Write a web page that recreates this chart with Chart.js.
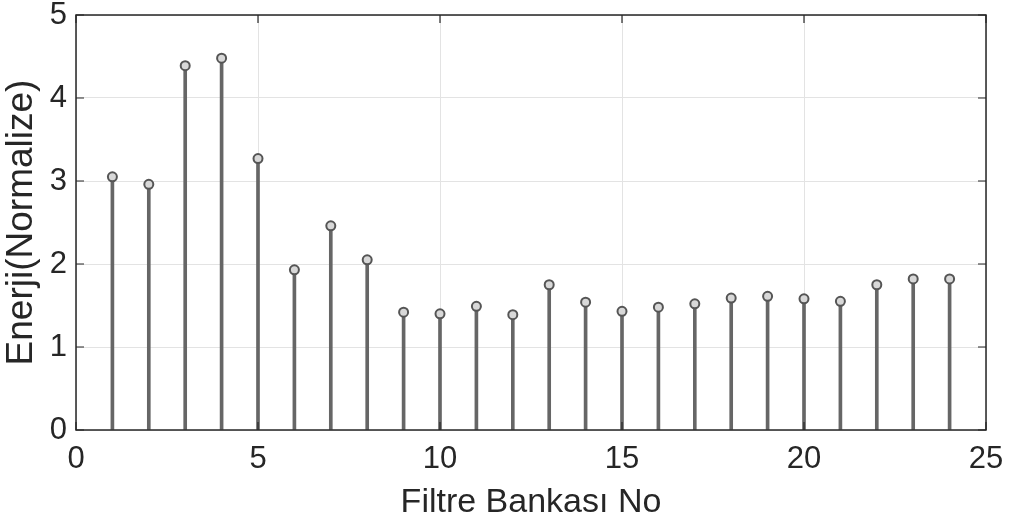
<!DOCTYPE html>
<html>
<head>
<meta charset="utf-8">
<script src="https://cdn.jsdelivr.net/npm/chart.js@4"></script>
<style>
  html, body { margin: 0; padding: 0; background: #fff; }
  #wrap { width: 1010px; height: 525px; }
</style>
</head>
<body>
<div id="wrap"><canvas id="myChart" width="1010" height="525"></canvas></div>
<script>
// filtre banka numaralari ve enerji degerleri
var bankNo = [1, 2, 3, 4, 5, 6, 7, 8, 9, 10, 11, 12, 13, 14, 15, 16, 17, 18, 19, 20, 21, 22, 23, 24];
var energy = [3.05, 2.96, 4.39, 4.48, 3.27, 1.93, 2.46, 2.05, 1.42, 1.40, 1.49, 1.39,
              1.75, 1.54, 1.43, 1.48, 1.52, 1.59, 1.61, 1.58, 1.55, 1.75, 1.82, 1.82];
var xTicks = [0, 5, 10, 15, 20, 25];
var yTicks = [0, 1, 2, 3, 4, 5];

var points = bankNo.map(function (n, i) {
    return { x: n, y: energy[i] };
});

// kutu ve iceri dogru tick cizgileri (matlab gibi)
var boxPlugin = {
    id: 'box',
    afterDatasetsDraw: function (chart) {
        const ctx = chart.ctx;
        const a = chart.chartArea;
        const xs = chart.scales.x, ys = chart.scales.y;
        ctx.save();
        ctx.strokeStyle = '#262626';
        ctx.lineWidth = 1.2;
        xTicks.forEach(function (t) {
            const px = xs.getPixelForValue(t);
            ctx.beginPath();
            ctx.moveTo(px, a.bottom); ctx.lineTo(px, a.bottom - 8);
            ctx.moveTo(px, a.top); ctx.lineTo(px, a.top + 8);
            ctx.stroke();
        });
        yTicks.forEach(function (t) {
            const py = ys.getPixelForValue(t);
            ctx.beginPath();
            ctx.moveTo(a.left, py); ctx.lineTo(a.left + 8, py);
            ctx.moveTo(a.right, py); ctx.lineTo(a.right - 8, py);
            ctx.stroke();
        });
        ctx.lineWidth = 1.5;
        ctx.strokeRect(a.left, a.top, a.right - a.left, a.bottom - a.top);
        ctx.restore();
    }
};

var ctx = document.getElementById('myChart').getContext('2d');

var myChart = new Chart(ctx, {
    type: 'bar',
    data: {
        datasets: [{
            type: 'bar',
            data: points,
            backgroundColor: '#666666',
            barThickness: 3,
            order: 2
        }, {
            type: 'line',
            data: points,
            showLine: false,
            pointRadius: 4.5,
            pointBorderWidth: 2,
            pointBorderColor: '#555555',
            pointBackgroundColor: '#d8d8d8',
            order: 1
        }]
    },
    options: {
        responsive: false,
        animation: false,
        layout: { padding: { top: 15, right: 24, left: 0, bottom: 0 } },
        plugins: {
            legend: { display: false },
            tooltip: { enabled: false }
        },
        scales: {
            x: {
                type: 'linear',
                min: 0,
                max: 25,
                offset: false,
                afterBuildTicks: function (scale) {
                    scale.ticks = xTicks.map(function (v) { return { value: v }; });
                },
                afterFit: function (scale) {
                    scale.height = 95;
                    scale.paddingLeft = 0;
                    scale.paddingRight = 0;
                },
                grid: { color: '#e3e3e3', lineWidth: 1, drawTicks: false, offset: false },
                border: { display: false },
                ticks: {
                    color: '#262626',
                    padding: 11,
                    maxRotation: 0,
                    font: { family: 'Liberation Sans, Arial, sans-serif', size: 31 }
                },
                title: {
                    display: true,
                    text: 'Filtre Bankası No',
                    color: '#262626',
                    padding: { top: 0, bottom: 2 },
                    font: { family: 'Liberation Sans, Arial, sans-serif', size: 34 }
                }
            },
            y: {
                min: 0,
                max: 5,
                afterBuildTicks: function (scale) {
                    scale.ticks = yTicks.map(function (v) { return { value: v }; });
                },
                afterFit: function (scale) {
                    scale.width = 76;
                    scale.paddingTop = 0;
                    scale.paddingBottom = 0;
                },
                grid: { color: '#e3e3e3', lineWidth: 1, drawTicks: false },
                border: { display: false },
                ticks: {
                    color: '#262626',
                    padding: 9,
                    font: { family: 'Liberation Sans, Arial, sans-serif', size: 31 }
                },
                title: {
                    display: true,
                    text: 'Enerji(Normalize)',
                    color: '#262626',
                    padding: { top: 0, bottom: 0 },
                    font: { family: 'Liberation Sans, Arial, sans-serif', size: 37 }
                }
            }
        }
    },
    plugins: [boxPlugin]
});
</script>
</body>
</html>
